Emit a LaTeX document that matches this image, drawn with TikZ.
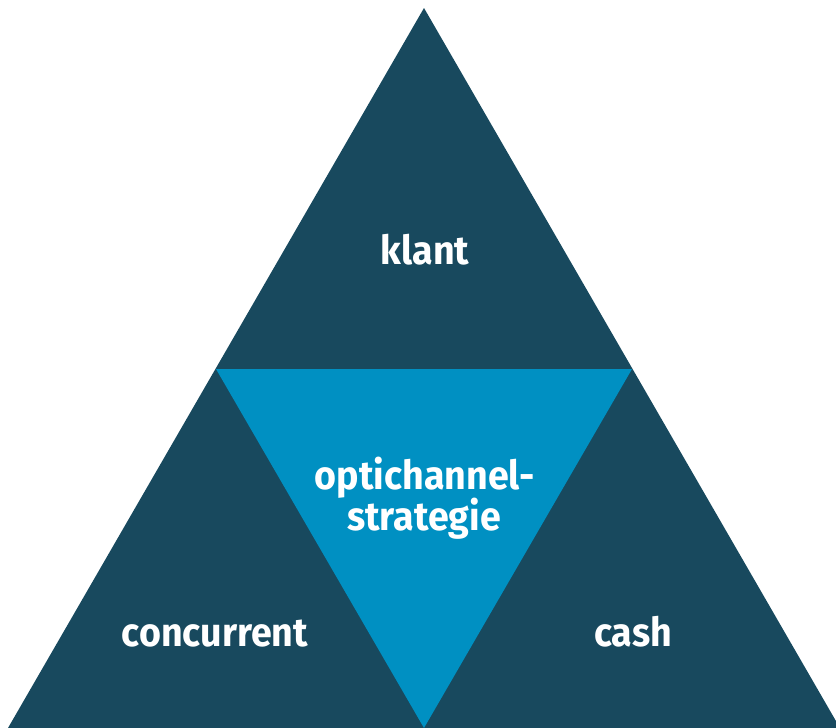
\documentclass[tikz,border=0pt]{standalone}
\usepackage{fontspec}
\setmainfont{Fira Sans}[BoldFeatures={FakeStretch=0.94}]
\definecolor{darkteal}{RGB}{24,73,94}
\definecolor{lightblue}{RGB}{0,144,194}
\begin{document}
\begin{tikzpicture}[x=1pt,y=-1pt,
  lbl/.style={text=white,font=\fontsize{40}{41}\selectfont\bfseries,inner sep=0pt,anchor=base,align=center}]
\useasboundingbox (0,0) rectangle (836,728);
\coordinate (apex) at (424,8);
\coordinate (bl) at (8,728);
\coordinate (br) at (840,728);
\coordinate (ml) at (216,369);
\coordinate (mr) at (632,369);
\coordinate (mb) at (424,728);
\fill[darkteal] (apex) -- (bl) -- (br) -- cycle;
\fill[lightblue] (ml) -- (mr) -- (mb) -- cycle;
\node[lbl] (klant) at (425,264) {klant};
\node[lbl] (opti) at (425,489) {optichannel-};
\node[lbl] (strat) at (424,530) {strategie};
\node[lbl] (conc) at (215,646) {concurrent};
\node[lbl] (cash) at (633,646) {cash};
\end{tikzpicture}
\end{document}
